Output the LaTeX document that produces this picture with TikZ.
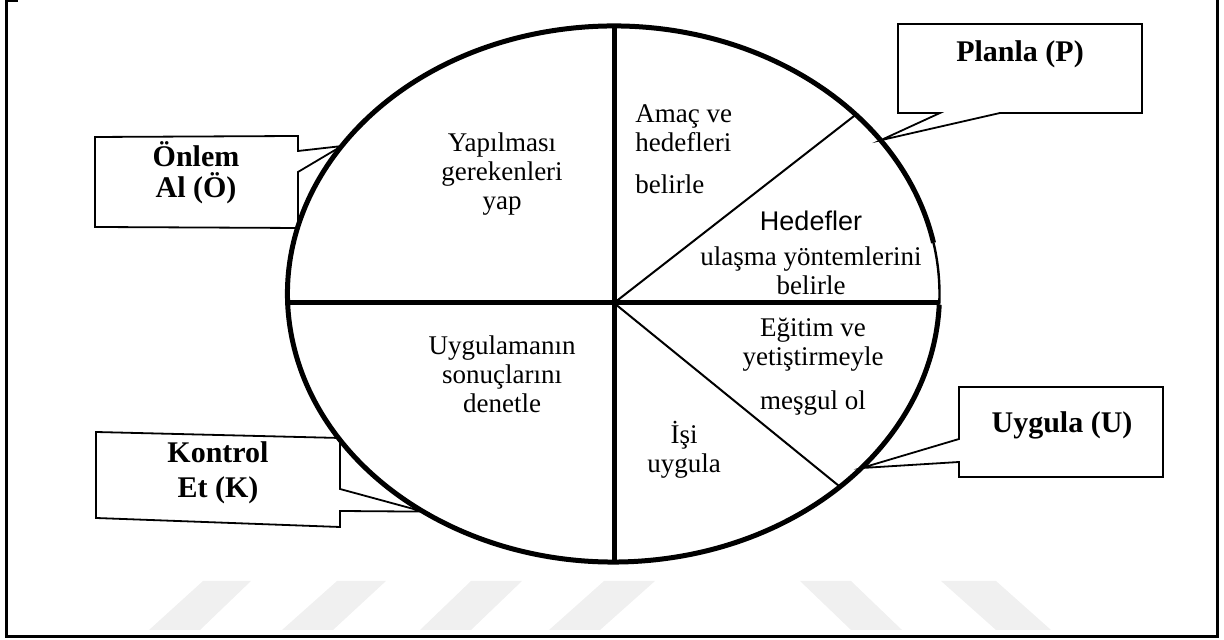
\documentclass[tikz,border=0pt]{standalone}
\usepackage{fontspec}
\setmainfont{Liberation Serif}
\setsansfont{Liberation Sans}
\usetikzlibrary{calc}
\begin{document}
\begin{tikzpicture}[x=0.5pt,y=0.5pt,
  rim/.style={line width=2.5pt},
  divider/.style={line width=2.5pt},
  spoke/.style={line width=1pt},
  callout/.style={draw, line width=0.9pt, line join=miter},
  frameline/.style={line width=1.5pt},
  wm/.style={fill=black!6},
  txt/.style={font=\fontsize{13.5}{14.5}\selectfont, align=center, inner sep=0pt, anchor=base},
  tag/.style={font=\bfseries\fontsize{15}{15.5}\selectfont, align=center, inner sep=0pt, anchor=base}
]
\useasboundingbox (0,0) rectangle (1224,640);

% faint stripes along the bottom
\fill[wm] (149,10)--(200,10)--(251,59)--(203,59)--cycle;
\fill[wm] (282,10)--(333,10)--(386,59)--(337,59)--cycle;
\fill[wm] (420,10)--(471,10)--(522,59)--(471,59)--cycle;
\fill[wm] (549,10)--(600,10)--(655,59)--(604,59)--cycle;
\fill[wm] (851,10)--(902,10)--(851,59)--(800,59)--cycle;
\fill[wm] (996,10)--(1051,10)--(996,59)--(941,59)--cycle;

% outer frame
\draw[frameline] (6,640)--(6,3)--(1217,3)--(1217,640);
\draw[frameline] (6,639)--(18,639);

% wheel geometry
\coordinate (C) at (613.5,346);
\coordinate (O) at (614,337);
\coordinate (Top) at (614,614);
\coordinate (Bot) at (614,78);
\coordinate (W) at (287.7,337);
\coordinate (E) at (939.3,337);
\coordinate (Pa) at ($(C)+(42:326 and 268)$);
\coordinate (Pb) at ($(C)+(-46:326 and 268)$);
\coordinate (tP) at ($(C)+(35:326 and 268)$);
\coordinate (tU) at ($(C)+(-40.5:326 and 268)$);
\coordinate (tO) at ($(C)+(146.5:326 and 268)$);
\coordinate (tK) at ($(C)+(234.3:326 and 268)$);

% rim of the wheel
\draw[rim] ($(C)+(11:326 and 268)$) arc[start angle=11, end angle=357.7, x radius=326, y radius=268];
\draw[line width=1.2pt] ($(C)+(-2.3:326 and 268)$) arc[start angle=-2.3, end angle=11, x radius=326, y radius=268];

% dividers
\draw[divider] (Top) -- (Bot);
\draw[divider] (W) -- (E);
\draw[spoke] (O) -- (Pa);
\draw[spoke] (O) -- (Pb);

% sector texts (anchored at the baseline of their last line)
\node[txt] (yap) at (502,430) {Yapılması\\gerekenleri\\yap};
\node[txt] (den) at (502,227) {Uygulamanın\\sonuçlarını\\denetle};
\node[txt, align=left, anchor=base west] (amac) at (635,446) {Amaç ve\\hedefleri\\[6.5pt]belirle};
\node[txt] (hed) at (811,345) {{\sffamily Hedefler}\\[3pt]ulaşma yöntemlerini\\belirle};
\node[txt] (egt) at (813,230) {Eğitim ve\\yetiştirmeyle\\[7.5pt]meşgul ol};
\node[txt] (isi) at (684,167) {İşi\\uygula};

% callouts
\draw[callout] (95,503)--(298,504)--(298,489)--(tO)--(298,468)--(298,412)--(95,413)--cycle;
\draw[callout] (898,616)--(1142,616)--(1142,527)--(1000,527)--(tP)--(940,527)--(898,527)--cycle;
\draw[callout] (959,253)--(1163,253)--(1163,163)--(959,163)--(959,178)--(tU)--(959,201)--cycle;
\draw[callout] (96,208)--(340,202)--(340,151)--(tK)--(340,129)--(340,113)--(96,122)--cycle;

\node[tag] (onlem) at (196,442) {Önlem\\Al (Ö)};
\node[tag] (planla) at (1020,578) {Planla (P)};
\node[tag] (uygula) at (1062,207) {Uygula (U)};
\node[tag] (kontrol) at (218,142) {Kontrol\\[2pt]Et (K)};
\end{tikzpicture}
\end{document}
